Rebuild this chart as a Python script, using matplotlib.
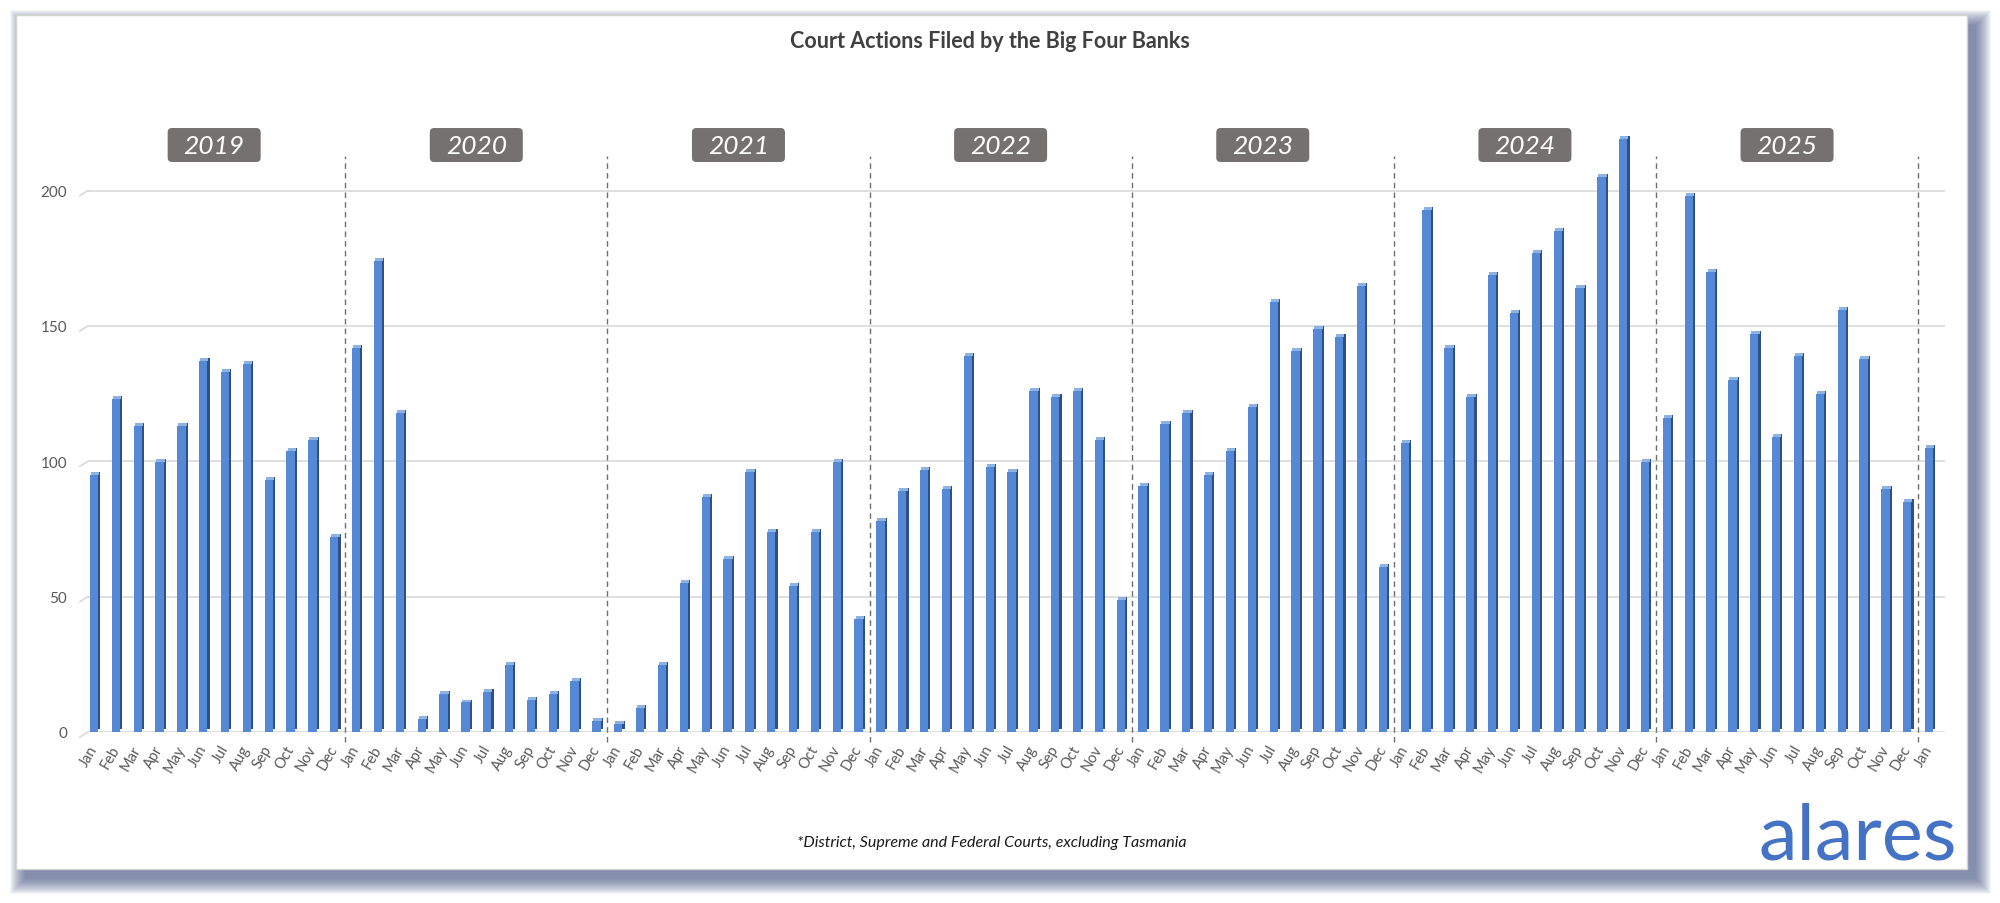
import numpy as np
import matplotlib.pyplot as plt
from matplotlib.patches import Rectangle, FancyBboxPatch

plt.rcParams['font.family'] = ['Lato', 'DejaVu Sans']

# monthly court actions, Jan 2019 .. Jan 2026
month_names = ['Jan', 'Feb', 'Mar', 'Apr', 'May', 'Jun',
               'Jul', 'Aug', 'Sep', 'Oct', 'Nov', 'Dec'] * 7 + ['Jan']
year_labels = ['2019', '2020', '2021', '2022', '2023', '2024', '2025']
actions = [96, 124, 114, 101, 114, 138, 134, 137, 94, 105, 109, 73,    # 2019
           143, 175, 119, 6, 15, 12, 16, 26, 13, 15, 20, 5,           # 2020
           4, 10, 26, 56, 88, 65, 97, 75, 55, 75, 101, 43,            # 2021
           79, 90, 98, 91, 140, 99, 97, 127, 125, 127, 109, 50,       # 2022
           92, 115, 119, 96, 105, 121, 160, 142, 150, 147, 166, 62,   # 2023
           108, 194, 143, 125, 170, 156, 178, 186, 165, 206, 220, 101,  # 2024
           117, 199, 171, 131, 148, 110, 140, 126, 157, 139, 91, 86,  # 2025
           106]                                                       # Jan 2026
y_ticks = [0, 50, 100, 150, 200]

W, H = 2000, 904
fig = plt.figure(figsize=(W / 100, H / 100), dpi=100)


def fx(px):
    return px / W


def fy(py):
    # pixel measured from the top
    return (H - py) / H


# frame with soft shadow (mostly right and bottom)
fl, ft, fr, fb = 16, 16, 1967, 870
for i in range(16):
    g = i * 1.0
    sh = Rectangle((fx(fl + 9 - g), fy(fb + 10 + g)), fx(fr - fl + 2 * g), (fb - ft + 2 * g) / H,
                   transform=fig.transFigure, facecolor='#3b4c7e', edgecolor='none',
                   alpha=0.055, zorder=-10)
    fig.add_artist(sh)
frame = Rectangle((fx(fl), fy(fb)), fx(fr - fl), (fb - ft) / H, transform=fig.transFigure,
                  facecolor='white', edgecolor='#d4d4d4', lw=1, zorder=-5)
fig.add_artist(frame)

# plot area
ax_left, ax_right, ax_bottom = 88, 1945, 733
y_top = 225
px_per_unit = 2.7075
ax_top = ax_bottom - y_top * px_per_unit
ax = fig.add_axes([fx(ax_left), fy(ax_bottom), fx(ax_right - ax_left), (ax_bottom - ax_top) / H])
ax.patch.set_alpha(0)

x = np.arange(len(actions))
vals = np.array(actions, dtype=float)
x0 = -0.275
ax.set_xlim(x0, 84.73)
ax.set_ylim(0, y_top)

for s in ax.spines.values():
    s.set_visible(False)

ax.set_yticks(y_ticks)
ax.yaxis.grid(True, color='#d9d9d9', lw=1.2)
ax.set_axisbelow(True)
ax.tick_params(axis='y', length=0, pad=15, labelsize=11, labelcolor='#595959')
ax.set_xticks(x)
ax.set_xticklabels(month_names, rotation=60, ha='right', va='center', rotation_mode='anchor')
ax.tick_params(axis='x', length=0, pad=10, labelsize=10.5, labelcolor='#595959')

# little 3D wall edges at each gridline
for t in y_ticks:
    ax.plot([x0 - 0.37, x0], [t - 1.85, t], color='#d9d9d9', lw=1.2, clip_on=False)

# 3D-ish bars: front, side, top
w, d, dz = 0.38, 0.1, 1.1
front = vals - dz
ax.bar(x, front, width=w, color='#5589d5', zorder=3)
ax.bar(x + w / 2 + d / 2, front, width=d, bottom=dz, color='#2f4f88', zorder=3)
ax.bar(x + d / 2, np.full(len(vals), dz), width=w, bottom=front, color='#8db3e2', zorder=3)

# year dividers and labels
box_w, box_h = 93 / 21.845, 34 / px_per_unit
aspect = (1 / px_per_unit) / (1 / 21.845)
for k, yr in enumerate(year_labels):
    cx = 12 * k + 5.5
    cy = 216.8
    box = FancyBboxPatch((cx - box_w / 2, cy - box_h / 2), box_w, box_h,
                         boxstyle='round,pad=0,rounding_size=0.2', mutation_aspect=aspect,
                         facecolor='#767171', edgecolor='none', clip_on=False, zorder=4)
    ax.add_patch(box)
    ax.text(cx, cy, yr, ha='center', va='center', color='white', fontsize=19,
            style='italic', zorder=5)
    xb = 12 * (k + 1) - 0.5
    ax.plot([xb, xb], [-3.7, 212.7], ls=(0, (4, 3)), color='#6f6f6f', lw=1,
            clip_on=False, zorder=2)

fig.text(fx(990), fy(41), 'Court Actions Filed by the Big Four Banks', ha='center', va='center',
         fontsize=15.5, fontweight='bold', color='#404040')
fig.text(fx(992), fy(843), '*District, Supreme and Federal Courts, excluding Tasmania',
         ha='center', va='center', fontsize=11.5, style='italic', color='#1a1a1a')
fig.text(fx(1957), fy(860), 'alares', ha='right', va='baseline', fontsize=56, color='#4472c4')

fig.savefig('out.png', dpi=100, facecolor='white')
